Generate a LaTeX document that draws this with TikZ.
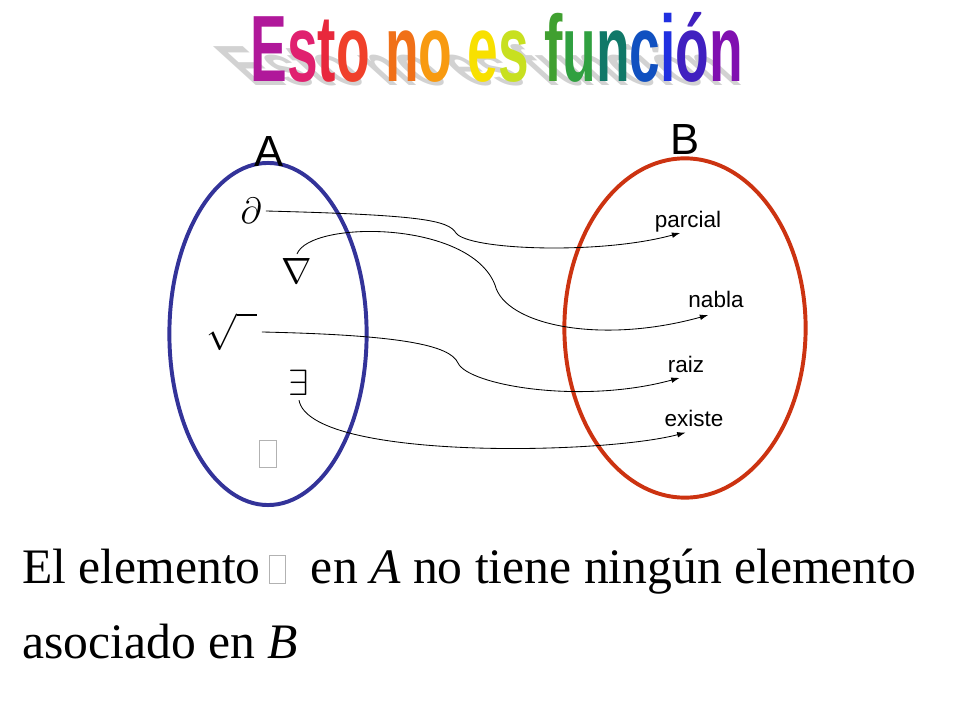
\RequirePackage{fix-cm}
\documentclass[tikz,border=0pt]{standalone}
\usepackage{amssymb}
\usepackage{amsmath}
\usepackage{fontspec}
\usepackage{graphicx}
\usepackage{tikz}
\usetikzlibrary{positioning,arrows.meta,shapes}
\newfontfamily\sansA{Liberation Sans}
\newfontfamily\serifT{Liberation Serif}
\definecolor{azulA}{HTML}{333399}
\definecolor{rojoB}{HTML}{CC3311}
\definecolor{ca}{HTML}{B0189A}
\definecolor{cb}{HTML}{E0206F}
\definecolor{cc}{HTML}{E8283C}
\definecolor{cd}{HTML}{F0402A}
\definecolor{ce}{HTML}{F07018}
\definecolor{cf}{HTML}{F89A10}
\definecolor{cg}{HTML}{F8E000}
\definecolor{ch}{HTML}{C8E020}
\definecolor{ci}{HTML}{40A030}
\definecolor{cj}{HTML}{30A040}
\definecolor{ck}{HTML}{107868}
\definecolor{cl}{HTML}{1050C0}
\definecolor{cm}{HTML}{2030E0}
\definecolor{cn}{HTML}{4020C0}
\definecolor{co}{HTML}{8010B0}
\newif\ifsombra
\newcommand{\lt}[2]{\ifsombra #2\else\textcolor{#1}{#2}\fi}
\newcommand{\titulo}{\scalebox{0.585}[1]{\sansA\bfseries\fontsize{67}{67}\selectfont
  \lt{ca}{E}\lt{cb}{s}\lt{cc}{t}\lt{cd}{o} \lt{ce}{n}\lt{cf}{o} \lt{cg}{e}\lt{ch}{s}
  \lt{ci}{f}\lt{cj}{u}\lt{ck}{n}\lt{cl}{c}\lt{cm}{i}\lt{cn}{ó}\lt{co}{n}}}
\newcommand{\tofu}{\textcolor{gray!60}{\fboxsep=0pt\fboxrule=0.6pt\fbox{\rule{0pt}{19pt}\hspace{11pt}}}}

\begin{document}
\begin{tikzpicture}[x=0.025cm, y=-0.025cm,
  set/.style={ellipse, draw, line width=2.8pt, inner sep=0pt},
  elem/.style={font=\fontsize{26}{26}\selectfont, inner sep=3pt},
  lbl/.style={font=\sansA\fontsize{16}{16}\selectfont, anchor=base, inner sep=0pt},
  conn/.style={-{Latex[length=6pt,width=4pt]}, line width=0.6pt}]
\useasboundingbox (0,0) rectangle (960,720);
% title and its shadow
\begin{scope}[shift={(252,86)}, cm={1,0,-0.66,0.6,(0,0)}]
\node[transform shape, anchor=base west, inner sep=0pt, text=gray!35] (sombra) at (0,0) {\sombratrue\titulo};
\end{scope}
\node[anchor=base west, inner sep=0pt] (titulo) at (250,82) {\titulo};
% the two sets
\node[set, draw=azulA, minimum width=4.93cm, minimum height=8.55cm] (setA) at (268,334) {};
\node[set, draw=rojoB, minimum width=6.03cm, minimum height=8.48cm] (setB) at (685,328) {};
\node[font=\sansA\fontsize{31}{31}\selectfont, anchor=base] (nameA) at (269,167) {A};
\node[font=\sansA\fontsize{31}{31}\selectfont, anchor=base] (nameB) at (685,155) {B};
% elements of A
\node[elem] (partial) at (251,211) {$\partial$};
\node[elem] (grad) at (297,271) {$\nabla$};
\node[elem] (root) at (232,332) {$\sqrt{\phantom{x}}$};
\node[elem] (exists) at (299,383) {$\exists$};
\node[elem] (empty) at (268,454) {\tofu};
% elements of B
\node[lbl] (parcial) at (688,228) {parcial};
\node[lbl] (nabla) at (716,308) {nabla};
\node[lbl] (raiz) at (686,373) {raiz};
\node[lbl] (existe) at (694,427) {existe};
% the arrows
\draw[conn] (partial.east) .. controls (420,215) and (448,220) .. (456,233)
  .. controls (468,250) and (600,255) .. ([xshift=-5.5pt,yshift=-3.5pt]parcial.base);
\draw[conn] (grad.north) .. controls (310,220) and (470,220) .. (495,285)
  .. controls (505,325) and (600,345) .. ([xshift=-5.5pt,yshift=-5pt]nabla.base);
\draw[conn] (root.east) .. controls (400,335) and (450,345) .. (458,363)
  .. controls (468,385) and (580,405) .. ([xshift=-4.5pt,yshift=-3.5pt]raiz.base);
\draw[conn] (exists.south) .. controls (310,460) and (600,455) .. ([xshift=-6pt,yshift=-4pt]existe.base);
% text below
\node[font=\serifT\fontsize{35.3}{35.3}\selectfont, anchor=base west, inner sep=0pt] (frase1) at (22,583) {El elemento\,\tofu\ \ en \textit{A} no tiene ningún elemento};
\node[font=\serifT\fontsize{35.3}{35.3}\selectfont, anchor=base west, inner sep=0pt] (frase2) at (22,658) {asociado en \textit{B}};
\end{tikzpicture}
\end{document}
